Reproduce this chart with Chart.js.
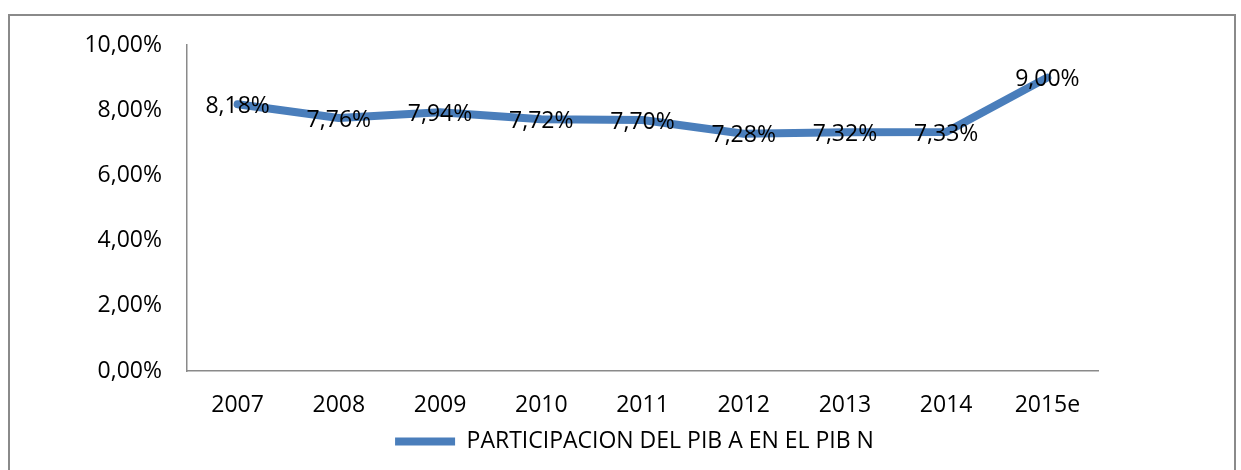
<!DOCTYPE html>
<html>
<head>
<meta charset="utf-8">
<script src="https://cdn.jsdelivr.net/npm/chart.js@4.4.0/dist/chart.umd.min.js"></script>
<style>
  html, body { margin: 0; padding: 0; background: #fff; }
  #wrap { position: relative; width: 1241px; height: 470px; overflow: hidden; }
  #frame { position: absolute; left: 8px; top: 14px; width: 1228px; height: 480px; border: 2px solid #8a8a8a; box-sizing: border-box; }
  #box { position: absolute; left: 0; top: 0; width: 1241px; height: 470px; }
</style>
</head>
<body>
<div id="wrap">
  <div id="frame"></div>
  <div id="box"><canvas id="pibChart"></canvas></div>
</div>
<script>
// years on the x axis
const years = ['2007', '2008', '2009', '2010', '2011', '2012', '2013', '2014', '2015e'];
// share of PIB A in PIB N, in percent
const participacion = [8.18, 7.76, 7.94, 7.72, 7.70, 7.28, 7.32, 7.33, 9.00];
const yTicks = [0, 2, 4, 6, 8, 10];
const seriesName = 'PARTICIPACION DEL PIB A EN EL PIB N';

const fontFamily = '"Open Sans", "DejaVu Sans", sans-serif';
const fontSize = 23;

function pct(v) {
    return v.toFixed(2).replace('.', ',') + '%';
}

// draws the value on each point, like the Excel data labels
const valueLabels = {
    id: 'valueLabels',
    afterDatasetsDraw(chart) {
        const ctx = chart.ctx;
        const meta = chart.getDatasetMeta(0);
        ctx.save();
        ctx.font = fontSize + 'px ' + fontFamily;
        ctx.fillStyle = '#000';
        ctx.textAlign = 'center';
        ctx.textBaseline = 'middle';
        meta.data.forEach((pt, i) => {
            ctx.fillText(pct(participacion[i]), pt.x, pt.y + 2);
        });
        ctx.restore();
    }
};

// the legend sits under the plot area, not under the whole canvas
const legendShift = {
    id: 'legendShift',
    afterLayout(chart) {
        const lg = chart.legend;
        if (!lg) return;
        const area = chart.chartArea;
        const dx = (area.left + area.right) / 2 - (lg.left + lg.right) / 2 - 8;
        lg.left += dx;
        lg.right += dx;
    }
};

const canvas = document.getElementById('pibChart');
if (canvas) {
    new Chart(canvas.getContext('2d'), {
        type: 'line',
        data: {
            labels: years,
            datasets: [{
                label: seriesName,
                data: participacion,
                borderColor: '#4a7ebb',
                backgroundColor: '#4a7ebb',
                borderWidth: 8,
                borderCapStyle: 'round',
                borderJoinStyle: 'round',
                pointRadius: 0,
                tension: 0,
                fill: false
            }]
        },
        options: {
            responsive: true,
            maintainAspectRatio: false,
            animation: false,
            layout: {
                padding: { left: 0, right: 143, top: 45, bottom: 7 }
            },
            scales: {
                x: {
                    offset: true,
                    grid: { display: false, drawTicks: false, offset: true },
                    border: { color: '#8a8a8a', width: 1.5 },
                    ticks: {
                        color: '#000',
                        padding: 21,
                        font: { family: fontFamily, size: fontSize }
                    },
                    afterFit(scale) { scale.height = 49; }
                },
                y: {
                    min: 0,
                    max: 10,
                    afterBuildTicks(scale) {
                        scale.ticks = yTicks.map(v => ({ value: v }));
                    },
                    grid: { display: false, drawTicks: false },
                    border: { color: '#8a8a8a', width: 1.5 },
                    ticks: {
                        color: '#000',
                        padding: 25,
                        font: { family: fontFamily, size: fontSize },
                        callback: function(value) {
                            return pct(value);
                        }
                    },
                    afterFit(scale) { scale.width = 187; }
                }
            },
            plugins: {
                legend: {
                    display: true,
                    position: 'bottom',
                    labels: {
                        color: '#000',
                        font: { family: fontFamily, size: fontSize },
                        usePointStyle: true,
                        pointStyle: 'line',
                        pointStyleWidth: 60,
                        padding: 10
                    }
                },
                tooltip: { enabled: false }
            }
        },
        plugins: [valueLabels, legendShift]
    });
}
</script>
</body>
</html>
